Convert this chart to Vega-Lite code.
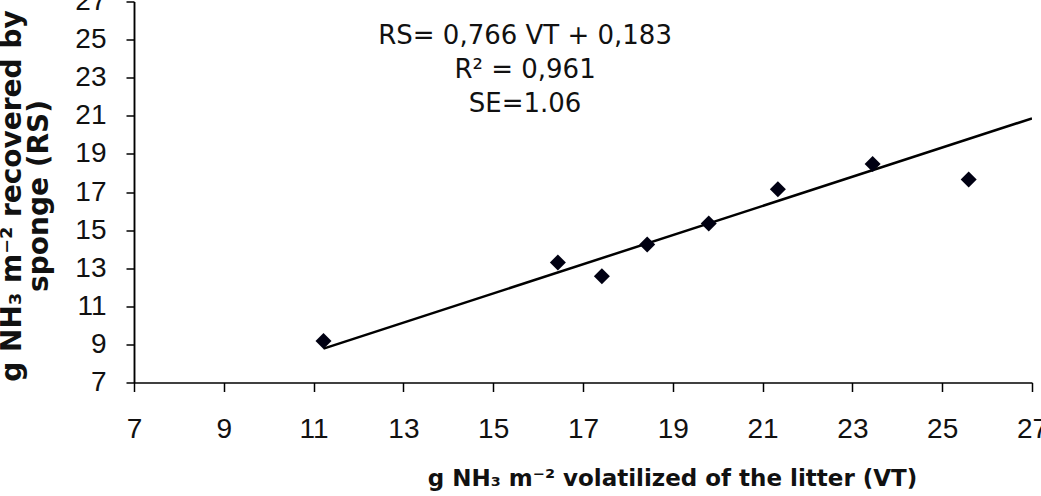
{
  "$schema": "https://vega.github.io/schema/vega-lite/v6.json",
  "autosize": {"type": "none"},
  "padding": {"left": 134, "top": 1.5, "right": 9, "bottom": 113.5},
  "width": 898,
  "height": 381,
  "background": "white",
  "config": {
    "view": {"stroke": null},
    "axis": {
      "grid": false,
      "domainColor": "black",
      "domainWidth": 1.5,
      "tickColor": "black",
      "tickWidth": 1.5,
      "labelFont": "Liberation Sans",
      "labelFontSize": 28,
      "labelColor": "#111",
      "labelOverlap": false,
      "labelFlush": false,
      "labelBound": false,
      "titleFont": "DejaVu Sans",
      "titleFontWeight": "bold",
      "titleColor": "#111"
    }
  },
  "datasets": {
    "points": [
      {"vt": 11.22, "rs": 9.18},
      {"vt": 16.44, "rs": 13.30},
      {"vt": 17.42, "rs": 12.58},
      {"vt": 18.43, "rs": 14.25},
      {"vt": 19.80, "rs": 15.35},
      {"vt": 21.34, "rs": 17.15},
      {"vt": 23.45, "rs": 18.47},
      {"vt": 25.59, "rs": 17.66}
    ],
    "fit": [
      {"vt": 11.22, "rs": 8.78},
      {"vt": 27.0, "rs": 20.865}
    ],
    "note": [
      {"label": "RS= 0,766 VT + 0,183\nR² = 0,961\nSE=1.06"}
    ]
  },
  "resolve": {"axis": {"y": "independent"}},
  "layer": [
    {
      "data": {"name": "fit"},
      "mark": {"type": "line", "color": "black", "strokeWidth": 2.5, "clip": true},
      "encoding": {
        "x": {
          "field": "vt", "type": "quantitative",
          "scale": {"domain": [7, 27], "nice": false, "zero": false},
          "axis": {
            "values": [7, 9, 11, 13, 15, 17, 19, 21, 23, 25, 27],
            "labelOverlap": false,
            "tickSize": 9,
            "labelPadding": 24,
            "title": "g NH₃ m⁻² volatilized of the litter (VT)",
            "titleFontSize": 23,
            "titleX": 538,
            "titleY": 103,
            "titleAnchor": "middle",
            "titleAlign": "center",
            "titleBaseline": "alphabetic"
          }
        },
        "y": {
          "field": "rs", "type": "quantitative",
          "scale": {"domain": [7, 27], "nice": false, "zero": false},
          "axis": {
            "orient": "left",
            "values": [7, 11, 15, 19, 23, 27],
            "labelOverlap": false,
            "tickSize": 8,
            "labelPadding": 20,
            "title": ["g NH₃ m⁻² recovered by", "sponge (RS)"],
            "titleFontSize": 28,
            "titleLineHeight": 27,
            "titleAngle": -90,
            "titleX": -113.5,
            "titleY": 194,
            "titleAlign": "center",
            "titleBaseline": "alphabetic"
          }
        }
      }
    },
    {
      "data": {"name": "points"},
      "mark": {"type": "point", "shape": "diamond", "filled": true, "color": "#000012", "size": 256, "opacity": 1},
      "encoding": {
        "x": {"field": "vt", "type": "quantitative"},
        "y": {
          "field": "rs", "type": "quantitative",
          "axis": {
            "orient": "left",
            "values": [9, 13, 17, 21, 25],
            "labelOverlap": false,
            "tickSize": 8,
            "labelPadding": 20,
            "title": null
          }
        }
      }
    },
    {
      "data": {"name": "note"},
      "mark": {"type": "text", "font": "DejaVu Sans", "fontSize": 26, "color": "#111", "lineBreak": "\n", "lineHeight": 34, "align": "center", "baseline": "middle"},
      "encoding": {
        "x": {"datum": 15.71},
        "y": {"datum": 25.2, "axis": null},
        "text": {"field": "label"}
      }
    }
  ]
}
